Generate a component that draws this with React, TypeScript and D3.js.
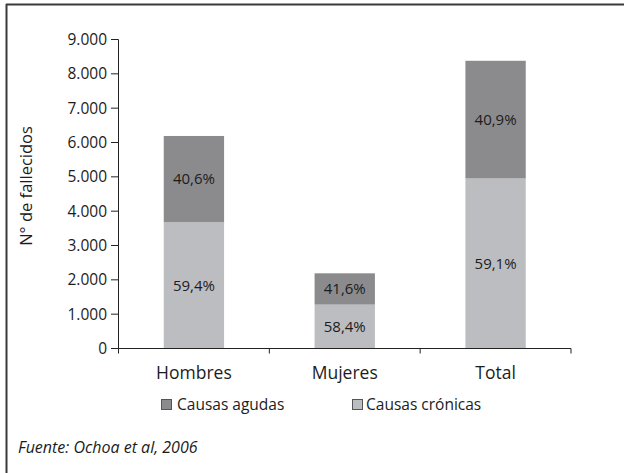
import React from 'react';
import * as d3 from 'd3';

const categories = ['Hombres', 'Mujeres', 'Total'];
const agudas = [2513, 911, 3427];
const cronicas = [3677, 1279, 4953];
const pctAgudas = ['40,6%', '41,6%', '40,9%'];
const pctCronicas = ['59,4%', '58,4%', '59,1%'];
const yTicks = [0, 1000, 2000, 3000, 4000, 5000, 6000, 7000, 8000, 9000];

const W = 624;
const H = 473;
const FONT = '"Open Sans", "Noto Sans", sans-serif';
const C_AGUDAS = '#8b8b8e';
const C_CRONICAS = '#bcbdc1';
const TEXT = '#1c1c1c';

const fmt = (v: number) => (v === 0 ? '0' : d3.format(',')(v).replace(/,/g, '.'));

export default function App() {
  const x = d3
    .scaleBand()
    .domain(categories)
    .range([118.5, 571])
    .paddingInner(0.6)
    .paddingOuter(0.3);
  const y = d3.scaleLinear().domain([0, 9000]).range([348.5, 39.5]);

  const rows = categories.map((c, i) => ({
    c,
    a: agudas[i],
    cr: cronicas[i],
    pa: pctAgudas[i],
    pc: pctCronicas[i],
  }));

  // tick marks sit between bands
  const edges = d3.range(categories.length + 1).map((i) => x.range()[0] + i * x.step());

  return (
    <div style={{ position: 'fixed', left: 0, top: 0, background: '#fff' }}>
      <svg
        width={W}
        height={H}
        style={{ display: 'block', fontFamily: FONT, fontWeight: 500 }}
      >
        <rect x={0} y={0} width={W} height={H} fill="#fff" />
        {/* frame */}
        <line x1={6} x2={W} y1={4.5} y2={4.5} stroke="#3a3a3a" strokeWidth={2} />
        <line x1={6.5} x2={6.5} y1={4} y2={H} stroke="#3a3a3a" strokeWidth={2} />

        {/* bars */}
        {rows.map((d) => (
          <g key={d.c}>
            <rect
              x={x(d.c)}
              y={y(d.cr)}
              width={x.bandwidth()}
              height={y(0) - y(d.cr)}
              fill={C_CRONICAS}
            />
            <rect
              x={x(d.c)}
              y={y(d.cr + d.a)}
              width={x.bandwidth()}
              height={y(d.cr) - y(d.cr + d.a)}
              fill={C_AGUDAS}
            />
            <text
              x={x(d.c)! + x.bandwidth() / 2}
              y={(y(d.cr) + y(d.cr + d.a)) / 2}
              dy="0.35em"
              textAnchor="middle"
              fontSize={15}
              fill={TEXT}
            >
              {d.pa}
            </text>
            <text
              x={x(d.c)! + x.bandwidth() / 2}
              y={(y(0) + y(d.cr)) / 2}
              dy="0.35em"
              textAnchor="middle"
              fontSize={15}
              fill={TEXT}
            >
              {d.pc}
            </text>
          </g>
        ))}

        {/* y axis */}
        <line x1={118.5} x2={118.5} y1={y(9000)} y2={y(0)} stroke="#222" strokeWidth={1} />
        {yTicks.map((t) => (
          <g key={t}>
            <line x1={111} x2={118.5} y1={y(t)} y2={y(t)} stroke="#222" />
            <text x={107} y={y(t)} dy="0.35em" textAnchor="end" fontSize={15.5} fill={TEXT}>
              {fmt(t)}
            </text>
          </g>
        ))}

        {/* x axis */}
        <line x1={x.range()[0]} x2={x.range()[1]} y1={y(0)} y2={y(0)} stroke="#222" />
        {edges.map((e, i) => (
          <line key={i} x1={e} x2={e} y1={y(0)} y2={y(0) + 5} stroke="#222" />
        ))}
        {categories.map((c) => (
          <text
            key={c}
            x={x(c)! + x.bandwidth() / 2}
            y={373}
            dy="0.35em"
            textAnchor="middle"
            fontSize={17.5}
            fill={TEXT}
          >
            {c}
          </text>
        ))}

        {/* y title */}
        <text
          transform="translate(26,186) rotate(-90)"
          textAnchor="middle"
          dy="0.35em"
          fontSize={16.5}
          fill={TEXT}
        >
          N° de fallecidos
        </text>

        {/* legend */}
        <rect x={161.5} y={399.5} width={10} height={10} fill={C_AGUDAS} stroke="#555" />
        <text x={177} y={405} dy="0.35em" fontSize={15.5} fill={TEXT}>
          Causas agudas
        </text>
        <rect x={352.5} y={399.5} width={10} height={10} fill={C_CRONICAS} stroke="#555" />
        <text x={366} y={405} dy="0.35em" fontSize={15.5} fill={TEXT}>
          Causas crónicas
        </text>

        {/* source */}
        <text x={18} y={447} dy="0.35em" fontSize={16} fontStyle="italic" fill={TEXT}>
          Fuente: Ochoa et al, 2006
        </text>
      </svg>
    </div>
  );
}
